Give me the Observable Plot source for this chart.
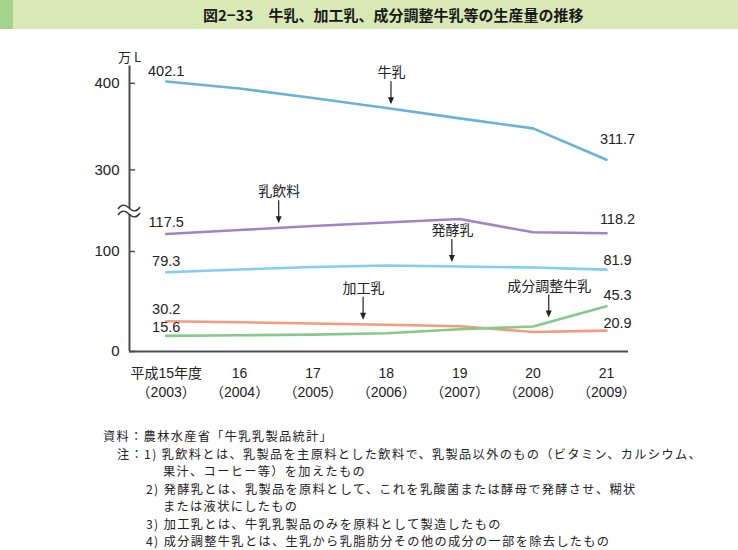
<!DOCTYPE html>
<html><head><meta charset="utf-8">
<script src="https://cdn.jsdelivr.net/npm/d3@7"></script>
<script src="https://cdn.jsdelivr.net/npm/@observablehq/plot@0.6"></script>
<style>
body{margin:0;background:#fff;}
#page{position:relative;width:738px;height:550px;overflow:hidden;font-family:"Liberation Sans","Noto Sans CJK JP",sans-serif;color:#222;}
#hdr{position:absolute;left:0;top:0;width:738px;height:29px;background:#d9e9b6;}
#hdr .blk{position:absolute;left:0;top:0;width:13px;height:29px;background:#a3d48c;}
#hdr .t{position:absolute;left:203px;top:0;line-height:29px;font-family:"Noto Sans CJK JP",sans-serif;font-size:15px;font-weight:bold;white-space:nowrap;color:#1a1a1a;}
#chart{position:absolute;left:0;top:28px;}
.note{position:absolute;font-family:"Noto Sans CJK JP",sans-serif;font-size:12.2px;letter-spacing:1.35px;white-space:nowrap;line-height:1;color:#222;}
</style>
</head><body>
<div id="page">
  <div id="hdr"><div class="blk"></div><div class="t">図2−33　牛乳、加工乳、成分調整牛乳等の生産量の推移</div></div>
  <div id="chart"></div>
  <div id="notes"></div>
</div>
<script>
// ---- data ----
const years = [2003, 2004, 2005, 2006, 2007, 2008, 2009];
const yearTop = ["平成15年度", "16", "17", "18", "19", "20", "21"];
const yearBottom = ["（2003）", "（2004）", "（2005）", "（2006）", "（2007）", "（2008）", "（2009）"];
const seriesNames = ["牛乳", "乳飲料", "発酵乳", "加工乳", "成分調整牛乳"];
const milk = [402.1, 394.0, 383.0, 371.5, 359.5, 348.0, 311.7];
const milkBeverage = [117.5, 121.5, 125.5, 129.0, 132.5, 119.2, 118.2];
const fermentedMilk = [79.3, 82.0, 84.5, 86.0, 85.0, 84.0, 81.9];
const processedMilk = [30.2, 29.2, 28.0, 26.8, 25.3, 19.5, 20.9];
const adjustedMilk = [15.6, 16.2, 16.9, 18.3, 22.2, 25.0, 45.3];
const seriesValues = [milk, milkBeverage, fermentedMilk, processedMilk, adjustedMilk];
const yTicks = [0, 100, 300, 400];
const unitLabel = "万 L";
const notes = [
  "資料：農林水産省「牛乳乳製品統計」",
  "注：1) 乳飲料とは、乳製品を主原料とした飲料で、乳製品以外のもの（ビタミン、カルシウム、",
  "果汁、コーヒー等）を加えたもの",
  "2) 発酵乳とは、乳製品を原料として、これを乳酸菌または酵母で発酵させ、糊状",
  "または液状にしたもの",
  "3) 加工乳とは、牛乳乳製品のみを原料として製造したもの",
  "4) 成分調整牛乳とは、生乳から乳脂肪分その他の成分の一部を除去したもの"
];

// ---- styles / layout ----
const seriesStyle = {
  "牛乳":        {color: "#68b3d6", dyStart: -10, dyEnd: -20, annotAt: 2006.07},
  "乳飲料":      {color: "#a384c2", dyStart: -12, dyEnd: -14, annotAt: 2004.54},
  "発酵乳":      {color: "#82cdf2", dyStart: -11, dyEnd: -9,  annotAt: 2006.90},
  "加工乳":      {color: "#f59a7c", dyStart: -12, dyEnd: -7,  annotAt: 2005.69},
  "成分調整牛乳": {color: "#86c98b", dyStart: -9,  dyEnd: -11, annotAt: 2008.22}
};
const noteX = [103, 117, 163, 146, 163, 146, 146];
const noteTop = 436, noteStep = 17.5;

// broken axis: values between breakLow and breakHigh are skipped, upper part compressed
const breakLow = 140, breakHigh = 252, upperRatio = 0.866;
const disp = v => v <= breakLow ? v : breakLow + (v - breakHigh) * upperRatio;

const rows = seriesNames.flatMap((name, i) => years.map((year, j) => ({name, year, value: seriesValues[i][j]})));
function valueAt(name, t) {
  const v = seriesValues[seriesNames.indexOf(name)];
  const j = Math.min(years.length - 2, Math.max(0, Math.floor(t - years[0])));
  const f = (t - years[j]) / (years[j + 1] - years[j]);
  return v[j] + (v[j + 1] - v[j]) * f;
}
const annots = seriesNames.map(name => ({name, at: seriesStyle[name].annotAt, v: valueAt(name, seriesStyle[name].annotAt)}));

const W = 738, H = 390;
const xDomain = [2002.5, 2009.3];
const yDomain = [0, disp(420)];
const font = '"Liberation Sans","Noto Sans CJK JP",sans-serif';

const marks = [];
seriesNames.forEach((name, i) => {
  const st = seriesStyle[name];
  const data = rows.filter(d => d.name === name);
  marks.push(Plot.line(data, {x: "year", y: d => disp(d.value), stroke: st.color, strokeWidth: 2.6}));
  marks.push(Plot.text([data[0]], {x: "year", y: d => disp(d.value), text: d => d.value.toFixed(1), dy: st.dyStart, fontSize: 14.5, fill: "#222"}));
  marks.push(Plot.text([data[data.length - 1]], {x: "year", y: d => disp(d.value), text: d => d.value.toFixed(1), dy: st.dyEnd, dx: 11, fontSize: 14.5, fill: "#222"}));
});
marks.push(Plot.text(annots, {x: "at", y: d => disp(d.v), text: "name", dy: -36, fontSize: 14, fill: "#222", fontFamily: '"Noto Sans CJK JP",sans-serif'}));
// axes
marks.push(Plot.ruleY([0], {stroke: "#4d4d4d", strokeWidth: 2}));
marks.push(Plot.ruleX([xDomain[0]], {stroke: "#4d4d4d", strokeWidth: 2}));
marks.push(Plot.tickY(yTicks, {y: d => disp(d), insetRight: (W - 129 - 110) - 6, stroke: "#4d4d4d", strokeWidth: 1.5}));
marks.push(Plot.text(yTicks, {y: d => disp(d), text: d => String(d), frameAnchor: "left", dx: -10, textAnchor: "end", lineAnchor: "middle", fontSize: 15, fill: "#222"}));
marks.push(Plot.text([unitLabel], {frameAnchor: "top-left", text: d => d, dy: -8, textAnchor: "middle", lineAnchor: "middle", fontSize: 13, fill: "#222", fontFamily: '"Noto Sans CJK JP",sans-serif'}));
marks.push(Plot.text(years, {x: d => d, text: (d, i) => yearTop[i], frameAnchor: "bottom", dy: 22, lineAnchor: "middle", fontSize: 14, fill: "#222"}));
marks.push(Plot.text(years, {x: d => d, text: (d, i) => yearBottom[i], frameAnchor: "bottom", dy: 41, lineAnchor: "middle", fontSize: 14, fill: "#222"}));

const plot = Plot.plot({
  width: W, height: H,
  marginLeft: 129, marginRight: 110, marginTop: 37.5, marginBottom: H - 323,
  x: {domain: xDomain, axis: null},
  y: {domain: yDomain, axis: null},
  style: {fontFamily: font, fontSize: "14px", background: "transparent", overflow: "visible"},
  marks
});
document.getElementById("chart").appendChild(plot);

// arrows and axis break, placed through the plot's own scales
const sx = plot.scale("x"), sy = plot.scale("y");
const svg = d3.select(plot);
const g = svg.append("g");
annots.forEach(a => {
  const X = sx.apply(a.at), Y = sy.apply(disp(a.v));
  const tip = Y - 4, start = Y - 27;
  g.append("line").attr("x1", X).attr("x2", X).attr("y1", start).attr("y2", tip - 5).attr("stroke", "#222").attr("stroke-width", 1.2);
  g.append("path").attr("d", `M${X - 3},${tip - 7}L${X + 3},${tip - 7}L${X},${tip}Z`).attr("fill", "#222");
});
const X0 = sx.apply(xDomain[0]), Yb = sy.apply(breakLow);
g.append("rect").attr("x", X0 - 4).attr("y", Yb - 3).attr("width", 8).attr("height", 6).attr("fill", "#fff");
[-3, 3].forEach(o => {
  g.append("path").attr("d", `M${X0 - 11},${Yb + o + 1}C${X0 - 7},${Yb + o - 5} ${X0 - 3},${Yb + o - 3} ${X0},${Yb + o}S${X0 + 7},${Yb + o + 5} ${X0 + 11},${Yb + o - 1}`)
    .attr("fill", "none").attr("stroke", "#333").attr("stroke-width", 1.4);
});

// notes
const nb = document.getElementById("notes");
notes.forEach((t, i) => {
  const d = document.createElement("div");
  d.className = "note";
  d.textContent = t;
  d.style.left = noteX[i] + "px";
  d.style.top = (noteTop + i * noteStep - 6) + "px";
  nb.appendChild(d);
});
</script>
</body></html>
